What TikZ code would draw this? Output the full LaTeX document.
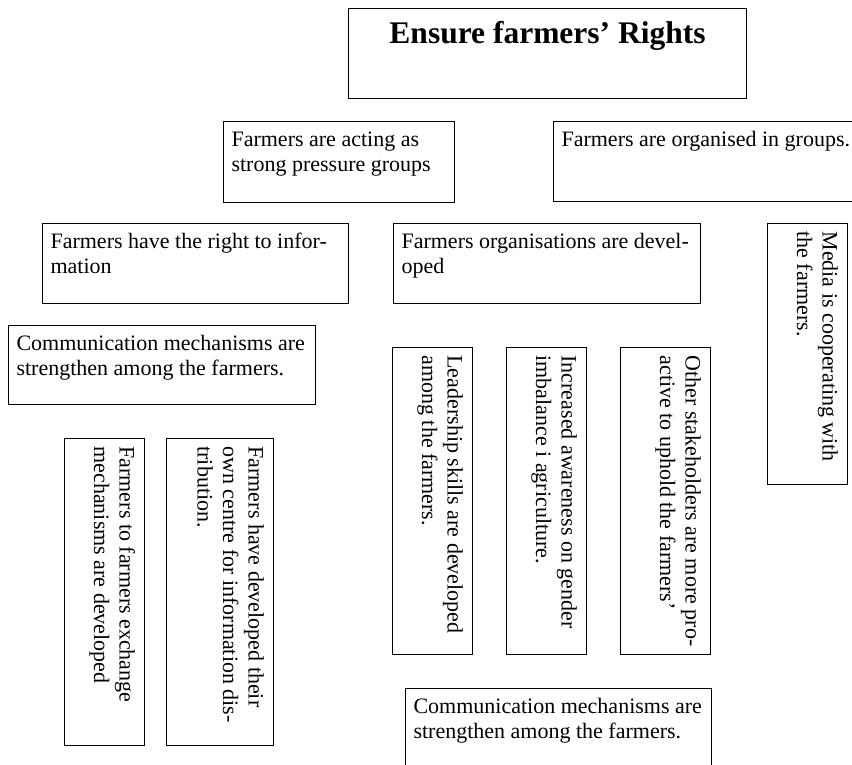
\documentclass[tikz,border=0pt]{standalone}
\usepackage{fontspec}
\setmainfont{Liberation Serif}
\usepackage{tikz}
\newcommand{\bodyfont}{\fontsize{22}{25.5}\selectfont}
\newcommand{\bxt}[3]{\parbox[t][#2][t]{#1}{\raggedright\strut #3}}
\tikzset{
bx/.style={
  draw=black,
  line width=1.1pt,
  anchor=north west,
  inner xsep=8pt,
  inner ysep=7pt,
  font=\bodyfont
  },
vbx/.style={bx, rotate=-90}
}

\begin{document}
\begin{tikzpicture}[x=1pt,y=-1pt]
            \useasboundingbox (0,0) rectangle (852,765);
            % top
            \node[bx, inner ysep=11pt, font=\fontsize{31.5}{34}\selectfont\bfseries] (rights) at (348,8)
                {\parbox[t][68pt][t]{382pt}{\centering\strut Ensure farmers’ Rights}};
            \node[bx] (press) at (223,121) {\bxt{215pt}{67pt}{Farmers are acting as\\strong pressure groups}};
            \node[bx] (orggrp) at (553,121) {\bxt{289pt}{66pt}{Farmers are organised in groups.}};
            % middle
            \node[bx] (info) at (42,223) {\bxt{290pt}{66pt}{Farmers have the right to infor-\\mation}};
            \node[bx] (orgdev) at (393,223) {\bxt{291pt}{66pt}{Farmers organisations are devel-\\oped}};
            \node[vbx] (media) at (848,223) {\bxt{245pt}{66pt}{Media is cooperating with\\the farmers.}};
            \node[bx] (comm) at (8,325) {\bxt{291pt}{65pt}{Communication mechanisms are\\strengthen among the farmers.}};
            % vertical boxes
            \node[vbx] (lead) at (473,347) {\bxt{291pt}{66pt}{Leadership skills are developed\\among the farmers.}};
            \node[vbx] (gender) at (587,347) {\bxt{291pt}{66pt}{Increased awareness on gender\\imbalance i agriculture.}};
            \node[vbx] (stake) at (711,347) {\bxt{291pt}{76pt}{Other stakeholders are more pro-\\active to uphold the farmers’}};
            \node[vbx] (exch) at (145,438) {\bxt{291pt}{66pt}{Farmers to farmers exchange\\mechanisms are developed}};
            \node[vbx] (centre) at (274,438) {\bxt{291pt}{93pt}{Farmers have developed their\\own centre for information dis-\\tribution.}};
            % bottom
            \node[bx] (comm2) at (405,688) {\bxt{290pt}{71pt}{Communication mechanisms are\\strengthen among the farmers.}};
        \end{tikzpicture}
\end{document}
